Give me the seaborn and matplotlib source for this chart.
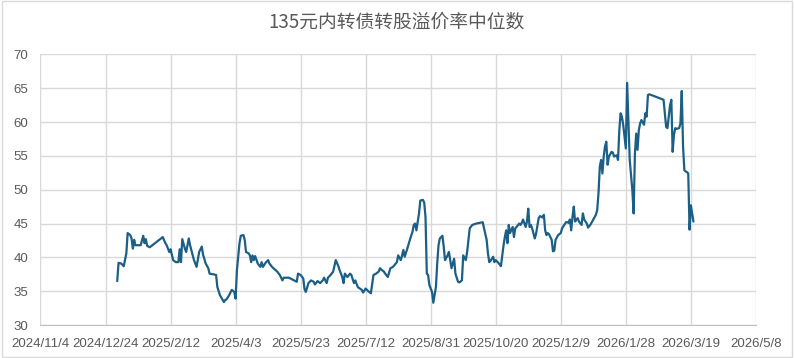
import pandas as pd
import matplotlib
matplotlib.use('Agg')
import matplotlib.pyplot as plt
import matplotlib.dates as mdates
import seaborn as sns

# 135元内转债转股溢价率中位数
fechas = [
    '2025-01-02', '2025-01-03', '2025-01-05', '2025-01-07', '2025-01-09', '2025-01-10',
    '2025-01-12', '2025-01-13', '2025-01-14', '2025-01-15', '2025-01-16', '2025-01-20',
    '2025-01-22', '2025-01-23', '2025-01-24', '2025-01-25', '2025-01-27', '2025-02-06',
    '2025-02-08', '2025-02-09', '2025-02-11', '2025-02-12', '2025-02-14', '2025-02-16',
    '2025-02-18', '2025-02-19', '2025-02-20', '2025-02-21', '2025-02-23', '2025-02-24',
    '2025-02-26', '2025-02-27', '2025-03-02', '2025-03-04', '2025-03-06', '2025-03-08',
    '2025-03-09', '2025-03-11', '2025-03-13', '2025-03-14', '2025-03-17', '2025-03-19',
    '2025-03-20', '2025-03-22', '2025-03-25', '2025-03-26', '2025-03-27', '2025-03-29',
    '2025-03-31', '2025-04-02', '2025-04-03', '2025-04-04', '2025-04-06', '2025-04-07',
    '2025-04-09', '2025-04-10', '2025-04-11', '2025-04-13', '2025-04-14', '2025-04-15',
    '2025-04-16', '2025-04-17', '2025-04-18', '2025-04-20', '2025-04-22', '2025-04-23',
    '2025-04-24', '2025-04-26', '2025-04-28', '2025-04-29', '2025-05-01', '2025-05-05',
    '2025-05-07', '2025-05-09', '2025-05-10', '2025-05-14', '2025-05-17', '2025-05-20',
    '2025-05-21', '2025-05-23', '2025-05-25', '2025-05-26', '2025-05-27', '2025-05-29',
    '2025-05-31', '2025-06-02', '2025-06-03', '2025-06-05', '2025-06-07', '2025-06-09',
    '2025-06-10', '2025-06-12', '2025-06-13', '2025-06-15', '2025-06-17', '2025-06-19',
    '2025-06-21', '2025-06-22', '2025-06-24', '2025-06-25', '2025-06-26', '2025-06-28',
    '2025-06-30', '2025-07-01', '2025-07-03', '2025-07-04', '2025-07-06', '2025-07-09',
    '2025-07-10', '2025-07-12', '2025-07-14', '2025-07-16', '2025-07-18', '2025-07-20',
    '2025-07-22', '2025-07-23', '2025-07-24', '2025-07-26', '2025-07-27', '2025-07-29',
    '2025-07-31', '2025-08-02', '2025-08-05', '2025-08-06', '2025-08-08', '2025-08-09',
    '2025-08-10', '2025-08-11', '2025-08-13', '2025-08-15', '2025-08-17', '2025-08-18',
    '2025-08-19', '2025-08-20', '2025-08-21', '2025-08-22', '2025-08-23', '2025-08-25',
    '2025-08-26', '2025-08-27', '2025-08-28', '2025-08-29', '2025-08-30', '2025-09-01',
    '2025-09-02', '2025-09-04', '2025-09-05', '2025-09-06', '2025-09-07', '2025-09-09',
    '2025-09-10', '2025-09-11', '2025-09-13', '2025-09-14', '2025-09-15', '2025-09-16',
    '2025-09-18', '2025-09-19', '2025-09-21', '2025-09-22', '2025-09-24', '2025-09-25',
    '2025-09-27', '2025-09-28', '2025-09-29', '2025-09-30', '2025-10-02', '2025-10-05',
    '2025-10-10', '2025-10-11', '2025-10-13', '2025-10-14', '2025-10-15', '2025-10-16',
    '2025-10-18', '2025-10-19', '2025-10-20', '2025-10-22', '2025-10-24', '2025-10-26',
    '2025-10-27', '2025-10-28', '2025-10-29', '2025-10-30', '2025-10-31', '2025-11-02',
    '2025-11-03', '2025-11-04', '2025-11-05', '2025-11-07', '2025-11-08', '2025-11-09',
    '2025-11-10', '2025-11-12', '2025-11-13', '2025-11-14', '2025-11-15', '2025-11-16',
    '2025-11-17', '2025-11-19', '2025-11-20', '2025-11-22', '2025-11-23', '2025-11-25',
    '2025-11-26', '2025-11-27', '2025-11-28', '2025-11-29', '2025-11-30', '2025-12-02',
    '2025-12-03', '2025-12-04', '2025-12-05', '2025-12-07', '2025-12-09', '2025-12-10',
    '2025-12-11', '2025-12-13', '2025-12-14', '2025-12-15', '2025-12-16', '2025-12-17',
    '2025-12-18', '2025-12-19', '2025-12-20', '2025-12-21', '2025-12-22', '2025-12-23',
    '2025-12-25', '2025-12-26', '2025-12-27', '2025-12-29', '2025-12-30', '2026-01-01',
    '2026-01-03', '2026-01-05', '2026-01-06', '2026-01-07', '2026-01-08', '2026-01-09',
    '2026-01-10', '2026-01-11', '2026-01-12', '2026-01-13', '2026-01-14', '2026-01-15',
    '2026-01-17', '2026-01-18', '2026-01-19', '2026-01-21', '2026-01-22', '2026-01-23',
    '2026-01-24', '2026-01-25', '2026-01-26', '2026-01-28', '2026-01-29', '2026-01-30',
    '2026-01-31', '2026-02-02', '2026-02-03', '2026-02-04', '2026-02-05', '2026-02-06',
    '2026-02-07', '2026-02-08', '2026-02-09', '2026-02-11', '2026-02-12', '2026-02-13',
    '2026-02-14', '2026-02-15', '2026-02-18', '2026-02-22', '2026-02-26', '2026-02-27',
    '2026-02-28', '2026-03-01', '2026-03-02', '2026-03-03', '2026-03-04', '2026-03-05',
    '2026-03-06', '2026-03-07', '2026-03-08', '2026-03-10', '2026-03-11', '2026-03-12',
    '2026-03-13', '2026-03-14', '2026-03-15', '2026-03-16', '2026-03-17', '2026-03-18',
    '2026-03-19', '2026-03-20', '2026-03-21',
]

valores = [
    36.5, 39.2, 39.1, 38.7, 40.6, 43.6,
    43.3, 42.8, 41.3, 42.6, 41.8, 41.8,
    43.2, 42.1, 42.7, 41.7, 41.5, 43.0,
    42.1, 41.8, 40.8, 41.2, 39.6, 39.3,
    39.3, 41.2, 39.3, 42.7, 41.3, 40.8,
    42.8, 41.8, 39.6, 38.6, 40.8, 41.6,
    40.4, 39.1, 38.4, 37.6, 37.5, 37.4,
    35.6, 34.4, 33.4, 33.7, 33.8, 34.4,
    35.2, 34.9, 33.9, 38.1, 42.1, 43.2,
    43.3, 42.6, 40.8, 40.6, 40.3, 39.3,
    40.3, 39.6, 40.2, 39.1, 38.6, 39.3,
    38.6, 39.2, 39.6, 39.1, 38.6, 37.9,
    37.4, 36.6, 37.0, 37.0, 36.7, 36.4,
    37.6, 37.4, 36.9, 35.3, 34.9, 36.2,
    36.6, 36.4, 36.0, 36.5, 36.2, 36.6,
    37.0, 36.2, 37.0, 37.4, 37.9, 39.6,
    38.7, 38.1, 37.1, 36.2, 37.6, 37.1,
    37.6, 37.4, 36.2, 36.6, 35.6, 35.2,
    34.8, 35.4, 35.0, 34.7, 37.4, 37.6,
    37.9, 38.4, 38.2, 37.9, 37.6, 37.1,
    38.4, 38.6, 39.3, 40.3, 39.6, 40.3,
    41.1, 40.1, 41.3, 42.6, 43.8, 44.8,
    45.0, 44.0, 45.3, 46.5, 48.4, 48.5,
    48.1, 46.0, 37.6, 37.4, 35.9, 34.9,
    33.3, 35.6, 39.1, 41.8, 42.8, 43.2,
    41.6, 39.6, 40.3, 40.8, 39.6, 38.4,
    39.8, 37.6, 36.4, 36.3, 36.6, 40.3,
    39.6, 40.8, 42.6, 44.3, 44.8, 45.0,
    45.2, 44.3, 42.6, 40.6, 39.3, 39.5,
    40.1, 39.3, 39.6, 39.2, 38.7, 41.8,
    43.0, 44.0, 42.1, 44.8, 43.6, 44.5,
    43.0, 44.3, 44.5, 45.0, 44.8, 45.1,
    45.6, 44.5, 45.3, 47.2, 44.5, 44.8,
    44.3, 42.8, 43.5, 45.8, 46.1, 45.9,
    46.3, 44.0, 43.3, 43.6, 43.4, 42.6,
    40.9, 41.0, 42.6, 43.3, 43.6, 44.3,
    44.6, 45.2, 45.2, 45.1, 45.6, 44.0,
    46.0, 47.5, 45.3, 45.6, 45.8, 45.3,
    44.8, 46.5, 45.6, 45.0, 44.4, 44.9,
    45.6, 46.3, 47.0, 49.5, 53.4, 54.4,
    52.4, 54.9, 56.4, 57.1, 53.7, 54.9,
    55.6, 55.5, 54.9, 55.1, 54.4, 58.8,
    61.3, 60.8, 59.6, 56.1, 65.8, 60.3,
    54.4, 50.0, 46.5, 55.4, 58.3, 55.9,
    58.8, 59.8, 60.3, 59.6, 61.3, 60.8,
    64.0, 64.1, 63.9, 63.6, 63.3, 61.3,
    59.3, 59.1, 60.8, 62.5, 63.3, 55.6,
    58.1, 59.1, 59.0, 59.1, 59.8, 64.6,
    56.4, 52.9, 52.7, 52.6, 52.4, 44.1,
    47.7, 46.5, 45.3,
]

titulo = '135元内转债转股溢价率中位数'
etiquetas_x = ['2024/11/4', '2024/12/24', '2025/2/12', '2025/4/3', '2025/5/23', '2025/7/12',
               '2025/8/31', '2025/10/20', '2025/12/9', '2026/1/28', '2026/3/19', '2026/5/8']
marcas_y = [30, 35, 40, 45, 50, 55, 60, 65, 70]

df = pd.DataFrame({'fecha': pd.to_datetime(fechas), 'valor': valores})
ticks_x = pd.to_datetime(etiquetas_x, format='%Y/%m/%d')

sns.set_style('white')
plt.rcParams['font.family'] = ['Liberation Sans Narrow', 'Liberation Sans', 'DejaVu Sans']

fig = plt.figure(figsize=(7.94, 3.58), dpi=100)
ax = fig.add_axes([0.051, 0.092, 0.901, 0.756])

sns.lineplot(data=df, x='fecha', y='valor', ax=ax, color='#1b5f86', linewidth=1.6)

ax.set_xlim(ticks_x[0], ticks_x[-1])
ax.set_ylim(30, 70)
ax.set_xticks(ticks_x)
ax.set_xticklabels(etiquetas_x)
ax.set_yticks(marcas_y)
ax.grid(True, color='#d9d9d9', linewidth=1.0)
ax.set_axisbelow(True)
ax.tick_params(axis='both', length=0, labelsize=9.5, colors='#595959')
ax.tick_params(axis='x', pad=9)
ax.tick_params(axis='y', pad=9)
for lado in ['top', 'right', 'left']:
    ax.spines[lado].set_visible(False)
ax.spines['bottom'].set_color('#bfbfbf')
ax.set_xlabel('')
ax.set_ylabel('')

fig.text(0.5, 0.94, titulo, ha='center', va='center', fontsize=13.5, color='#595959',
         family=['Noto Sans CJK SC', 'DejaVu Sans'])

# borde del área del gráfico
fig.patches.append(plt.Rectangle((0.002, 0.003), 0.996, 0.994, transform=fig.transFigure,
                                 fill=False, edgecolor='#d9d9d9', linewidth=1.0))

fig.savefig('out.png', dpi=100)
